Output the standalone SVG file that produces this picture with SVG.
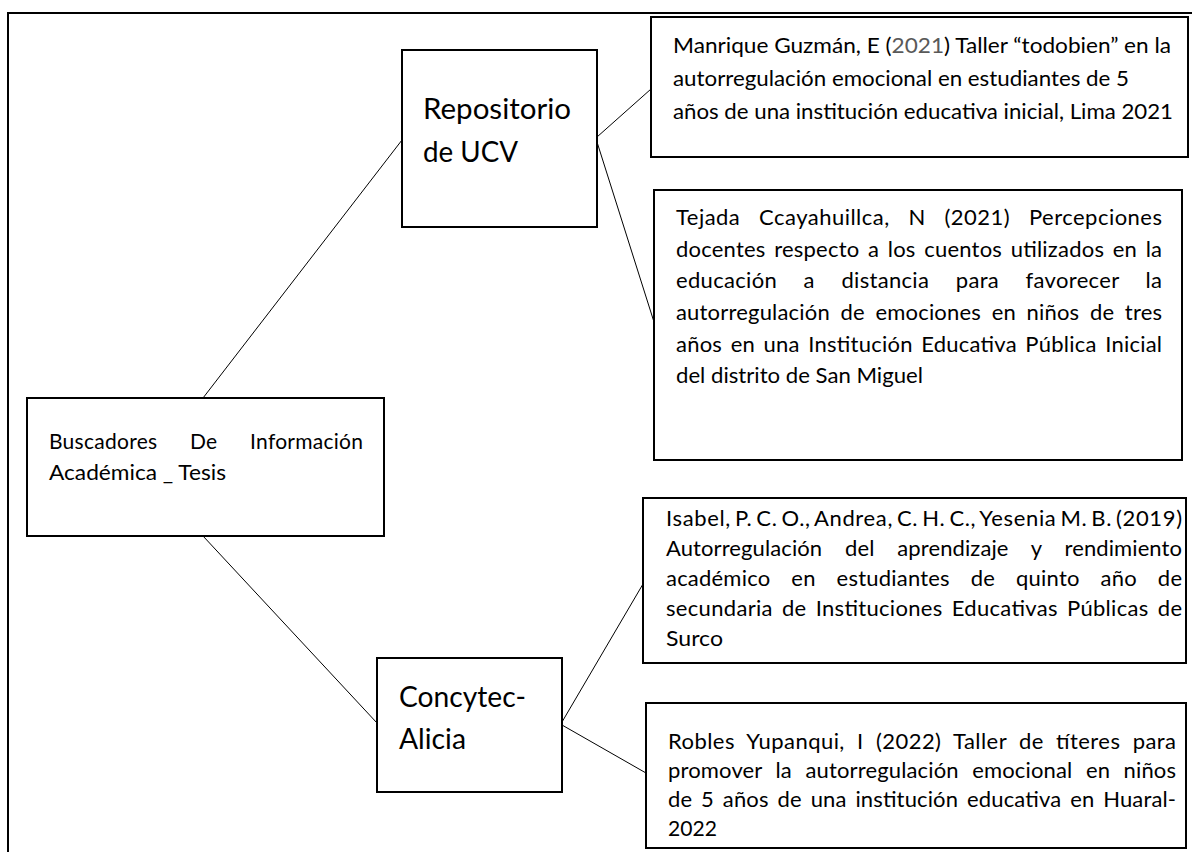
<svg xmlns="http://www.w3.org/2000/svg" width="1192" height="852" viewBox="0 0 1192 852">
<style>
.box{fill:#fff;stroke:#000;stroke-width:2}
.frame{fill:none;stroke:#000;stroke-width:2}
.conn line{stroke:#000;stroke-width:1}
text{font-family:Lato,"Open Sans","Liberation Sans",sans-serif;fill:#000}
.big{font-size:29px}
.sm{font-size:22px}
.mid{font-size:21px}
</style>
<rect width="1192" height="852" fill="#fff"/>
<rect class="frame" x="8" y="13" width="1200" height="860"/>
<g id="connectors" class="conn">
<line x1="203" y1="398" x2="402" y2="140"/>
<line x1="203" y1="536" x2="377" y2="723"/>
<line x1="597" y1="137" x2="651" y2="89"/>
<line x1="597" y1="142" x2="654" y2="322"/>
<line x1="562" y1="722" x2="643" y2="584"/>
<line x1="562" y1="725" x2="646" y2="773"/>
</g>
<g id="buscadores">
<rect class="box" x="27" y="398" width="357" height="138"/>
<text class="mid" x="49" y="449" word-spacing="27" textLength="314" lengthAdjust="spacing">Buscadores De Información</text>
<text class="mid" x="49" y="480" textLength="177" lengthAdjust="spacingAndGlyphs">Académica _ Tesis</text>
</g>
<g id="repositorio">
<rect class="box" x="402" y="50" width="195" height="177"/>
<text class="big" x="423" y="119" textLength="148" lengthAdjust="spacingAndGlyphs">Repositorio</text>
<text class="big" x="423" y="162" textLength="95" lengthAdjust="spacingAndGlyphs">de UCV</text>
</g>
<g id="concytec">
<rect class="box" x="377" y="658" width="185" height="134"/>
<text class="big" x="399" y="707" textLength="127" lengthAdjust="spacingAndGlyphs">Concytec-</text>
<text class="big" x="399" y="749" textLength="67" lengthAdjust="spacingAndGlyphs">Alicia</text>
</g>
<g id="manrique">
<rect class="box" x="651" y="17" width="537" height="140"/>
<text class="sm" x="673" y="53" textLength="498" lengthAdjust="spacingAndGlyphs">Manrique Guzmán, E (<tspan fill="#595959">2021</tspan>) Taller “todobien” en la</text>
<text class="sm" x="673" y="86" textLength="456" lengthAdjust="spacingAndGlyphs">autorregulación emocional en estudiantes de 5</text>
<text class="sm" x="673" y="119" textLength="500" lengthAdjust="spacingAndGlyphs">años de una institución educativa inicial, Lima 2021</text>
</g>
<g id="tejada">
<rect class="box" x="654" y="190" width="528" height="270"/>
<text class="sm" x="676" y="225" word-spacing="12.7" textLength="486" lengthAdjust="spacing">Tejada Ccayahuillca, N (2021) Percepciones</text>
<text class="sm" x="676" y="257" word-spacing="2.7" textLength="486" lengthAdjust="spacing">docentes respecto a los cuentos utilizados en la</text>
<text class="sm" x="676" y="288" word-spacing="20.6" textLength="486" lengthAdjust="spacing">educación a distancia para favorecer la</text>
<text class="sm" x="676" y="320" word-spacing="4.8" textLength="486" lengthAdjust="spacing">autorregulación de emociones en niños de tres</text>
<text class="sm" x="676" y="352" word-spacing="2.7" textLength="486" lengthAdjust="spacing">años en una Institución Educativa Pública Inicial</text>
<text class="sm" x="676" y="383" textLength="247" lengthAdjust="spacingAndGlyphs">del distrito de San Miguel</text>
</g>
<g id="isabel">
<rect class="box" x="643" y="498" width="543" height="165"/>
<text class="sm" x="666" y="526" word-spacing="-2.3" textLength="516" lengthAdjust="spacing">Isabel, P. C. O., Andrea, C. H. C., Yesenia M. B. (2019)</text>
<text class="sm" x="666" y="556" word-spacing="17.1" textLength="516" lengthAdjust="spacing">Autorregulación del aprendizaje y rendimiento</text>
<text class="sm" x="666" y="586" word-spacing="15.1" textLength="516" lengthAdjust="spacing">académico en estudiantes de quinto año de</text>
<text class="sm" x="666" y="616" word-spacing="3.2" textLength="516" lengthAdjust="spacing">secundaria de Instituciones Educativas Públicas de</text>
<text class="sm" x="666" y="646" textLength="57" lengthAdjust="spacingAndGlyphs">Surco</text>
</g>
<g id="robles">
<rect class="box" x="646" y="703" width="540" height="145"/>
<text class="sm" x="668" y="749" word-spacing="6.2" textLength="508" lengthAdjust="spacing">Robles Yupanqui, I (2022) Taller de títeres para</text>
<text class="sm" x="668" y="778" word-spacing="7.7" textLength="508" lengthAdjust="spacing">promover la autorregulación emocional en niños</text>
<text class="sm" x="668" y="807" word-spacing="3.1" textLength="508" lengthAdjust="spacing">de 5 años de una institución educativa en Huaral-</text>
<text class="sm" x="668" y="836" textLength="49" lengthAdjust="spacingAndGlyphs">2022</text>
</g>
</svg>
